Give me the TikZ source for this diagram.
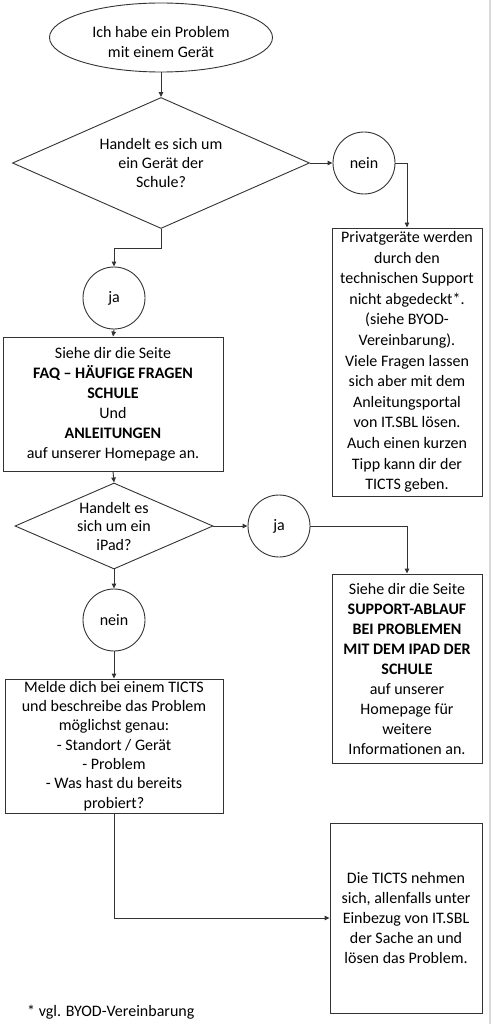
\documentclass[tikz,border=0pt]{standalone}
\usepackage{fontspec}
\setmainfont{Carlito}
\usetikzlibrary{shapes.geometric,arrows.meta}
\begin{document}
\begin{tikzpicture}[x=1pt,y=-1pt,
  txt/.style={font=\fontsize{16}{20}\selectfont, align=center, inner sep=0pt},
  shp/.style={draw=black!80, line width=0.9pt, inner sep=0pt},
  circ/.style={shp, circle, minimum size=62pt, txt},
  box/.style={shp, rectangle, txt},
  arr/.style={draw=black!80, line width=0.9pt, -{Triangle[length=5pt,width=4.5pt]}},
  ln/.style={draw=black!80, line width=0.9pt}]

\fill[white] (0,0) rectangle (491,1024);
\useasboundingbox (0,0) rectangle (491,1024);
\draw[gray!30, line width=1.5pt] (490,0) -- (490,1024);

\node[shp, ellipse, minimum width=223pt, minimum height=69pt,
  label={[name=startt, txt, yshift=-4.5pt]center:Ich habe ein Problem\\mit einem Gerät}] (start) at (161,37.5) {};

\node[shp, diamond, minimum width=297pt, minimum height=131pt,
  label={[name=d1t, txt, font=\fontsize{16}{18.7}\selectfont]center:Handelt es sich um\\ein Gerät der\\Schule?}] (d1) at (161,163) {};

\node[circ] (n1) at (364,163) {nein};

\node[box, minimum width=150pt, minimum height=268pt, font=\fontsize{16}{20.6}\selectfont] (priv) at (407,362)
  {Privatgeräte werden\\durch den\\technischen Support\\nicht abgedeckt*.\\(siehe BYOD-\\Vereinbarung).\\Viele Fragen lassen\\sich aber mit dem\\Anleitungsportal\\von IT.SBL lösen.\\Auch einen kurzen\\Tipp kann dir der\\TICTS geben.};

\node[circ] (j1) at (114,298) {ja};

\node[box, minimum width=220pt, minimum height=134pt] (faq) at (113,404)
  {Siehe dir die Seite\\\textbf{FAQ – HÄUFIGE FRAGEN}\\\textbf{SCHULE}\\Und\\\textbf{ANLEITUNGEN}\\auf unserer Homepage an.};

\node[shp, diamond, minimum width=198pt, minimum height=86pt,
  label={[name=d2t, txt, font=\fontsize{16}{18.5}\selectfont]center:Handelt es\\sich um ein\\iPad?}] (d2) at (114,526) {};

\node[circ] (j2) at (279,526) {ja};

\node[box, minimum width=150pt, minimum height=189pt] (ipad) at (407,668.5)
  {Siehe dir die Seite\\\textbf{SUPPORT-ABLAUF}\\\textbf{BEI PROBLEMEN}\\\textbf{MIT DEM IPAD DER}\\\textbf{SCHULE}\\auf unserer\\Homepage für\\weitere\\Informationen an.};

\node[circ] (n2) at (114,620) {nein};

\node[box, minimum width=218pt, minimum height=134pt, font=\fontsize{16}{19.3}\selectfont] (melde) at (114,746)
  {Melde dich bei einem TICTS\\und beschreibe das Problem\\möglichst genau:\\- Standort / Gerät\\- Problem\\- Was hast du bereits\\probiert?};

\node[box, minimum width=152pt, minimum height=190pt, font=\fontsize{16}{19.8}\selectfont] (ticts) at (406,918)
  {Die TICTS nehmen\\sich, allenfalls unter\\Einbezug von IT.SBL\\der Sache an und\\lösen das Problem.};

\node[txt, anchor=west] (fn) at (27,1012) {* vgl. BYOD-Vereinbarung};

\draw[arr] (start.south) -- (d1.north);
\draw[arr] (d1.east) -- (n1.west);
\draw[arr] (n1.east) -| (priv.north);
\draw[arr] (d1.south) -- ++(0,19) -| (j1.north);
\draw[arr] (j1.south) -- (faq.north);
\draw[arr] (faq.south) -- (d2.north);
\draw[arr] (d2.east) -- (j2.west);
\draw[arr] (j2.east) -| (ipad.north);
\draw[arr] (d2.south) -- (n2.north);
\draw[arr] (n2.south) -- (melde.north);
\draw[arr] (melde.south) |- (ticts.west);
\end{tikzpicture}
\end{document}
